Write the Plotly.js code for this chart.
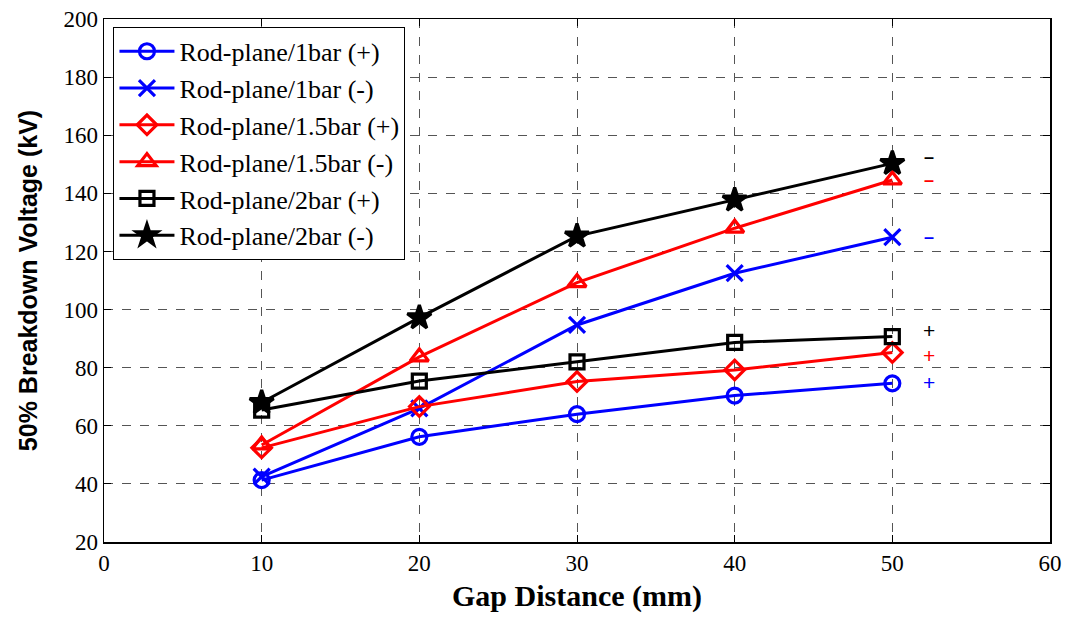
<!DOCTYPE html>
<html>
<head>
<meta charset="utf-8">
<script src="https://cdn.plot.ly/plotly-3.0.1.min.js"></script>
<style>html,body{margin:0;padding:0;background:#fff;}#chart{width:1073px;height:621px;}</style>
</head>
<body>
<div id="chart"></div>
<script>
const gap = [10, 20, 30, 40, 50];
const rod1Pos = [41.3, 56.2, 64.0, 70.4, 74.6];
const rod1Neg = [42.5, 66.0, 94.7, 112.5, 124.9];
const rod15Pos = [52.4, 66.6, 75.2, 79.2, 85.2];
const rod15Neg = [53.4, 83.7, 109.3, 128.0, 144.6];
const rod2Pos = [65.4, 75.4, 82.0, 88.7, 90.7];
const rod2Neg = [68.0, 97.2, 125.3, 137.7, 150.3];
const names = ['Rod-plane/1bar (+)', 'Rod-plane/1bar (-)', 'Rod-plane/1.5bar (+)', 'Rod-plane/1.5bar (-)', 'Rod-plane/2bar (+)', 'Rod-plane/2bar (-)'];
const signLabels = ['–', '–', '–', '+', '+', '+'];
const signY = [152.5, 144.5, 125.0, 92.8, 84.3, 74.8];
const signColors = ['#000000', '#ff0000', '#0000ff', '#000000', '#ff0000', '#0000ff'];
const signX = 52.3;

const series = [rod1Pos, rod1Neg, rod15Pos, rod15Neg, rod2Pos, rod2Neg];
const colors = ['#0000ff', '#0000ff', '#ff0000', '#ff0000', '#000000', '#000000'];
const symbols = ['circle-open', 'x-thin-open', 'diamond-open', 'triangle-up-open', 'square-open', 'star'];
const sizes = [15, 16, 15, 16, 14, 18];

const traces = series.map((ys, i) => ({
  x: gap, y: ys, name: names[i], type: 'scatter', mode: 'lines+markers',
  line: {color: colors[i], width: 3},
  marker: {symbol: symbols[i], size: sizes[i], color: colors[i], line: {color: colors[i], width: 3.2}}
}));

const annotations = signLabels.map((t, i) => ({
  x: signX, y: signY[i], xref: 'x', yref: 'y', text: t === '–' ? '<b>' + t + '</b>' : t, showarrow: false,
  font: {family: 'Liberation Sans', size: t === '–' ? 18 : 21, color: signColors[i]}
}));

const axisCommon = {
  showline: true, linecolor: '#000', linewidth: 1.5, mirror: 'ticks',
  ticks: 'inside', ticklen: 7, tickcolor: '#000', tickwidth: 1,
  showgrid: true, gridcolor: '#555', griddash: 'dash', gridwidth: 1,
  zeroline: false,
  tickfont: {family: 'Liberation Serif', size: 23, color: '#000'}
};

const layout = {
  width: 1073, height: 621,
  margin: {l: 104, r: 23, t: 19, b: 79},
  paper_bgcolor: '#fff', plot_bgcolor: '#fff',
  showlegend: true,
  legend: {x: 0.01, y: 0.985, xanchor: 'left', yanchor: 'top', bgcolor: '#fff',
    bordercolor: '#000', borderwidth: 1,
    font: {family: 'Liberation Serif', size: 26, color: '#000'},
    tracegroupgap: 0, itemwidth: 55},
  xaxis: Object.assign({}, axisCommon, {
    range: [0, 60], tickvals: [0, 10, 20, 30, 40, 50, 60],
    title: {text: '<b>Gap Distance (mm)</b>', standoff: 10,
      font: {family: 'Liberation Serif', size: 30, color: '#000'}}
  }),
  yaxis: Object.assign({}, axisCommon, {
    range: [20, 200], tickvals: [20, 40, 60, 80, 100, 120, 140, 160, 180, 200],
    title: {text: '<b>50% Breakdown Voltage (kV)</b>', standoff: 18,
      font: {family: 'Liberation Sans', size: 25, color: '#000'}}
  }),
  annotations: annotations
};

Plotly.newPlot('chart', traces, layout, {displayModeBar: false, staticPlot: true});
</script>
</body>
</html>
